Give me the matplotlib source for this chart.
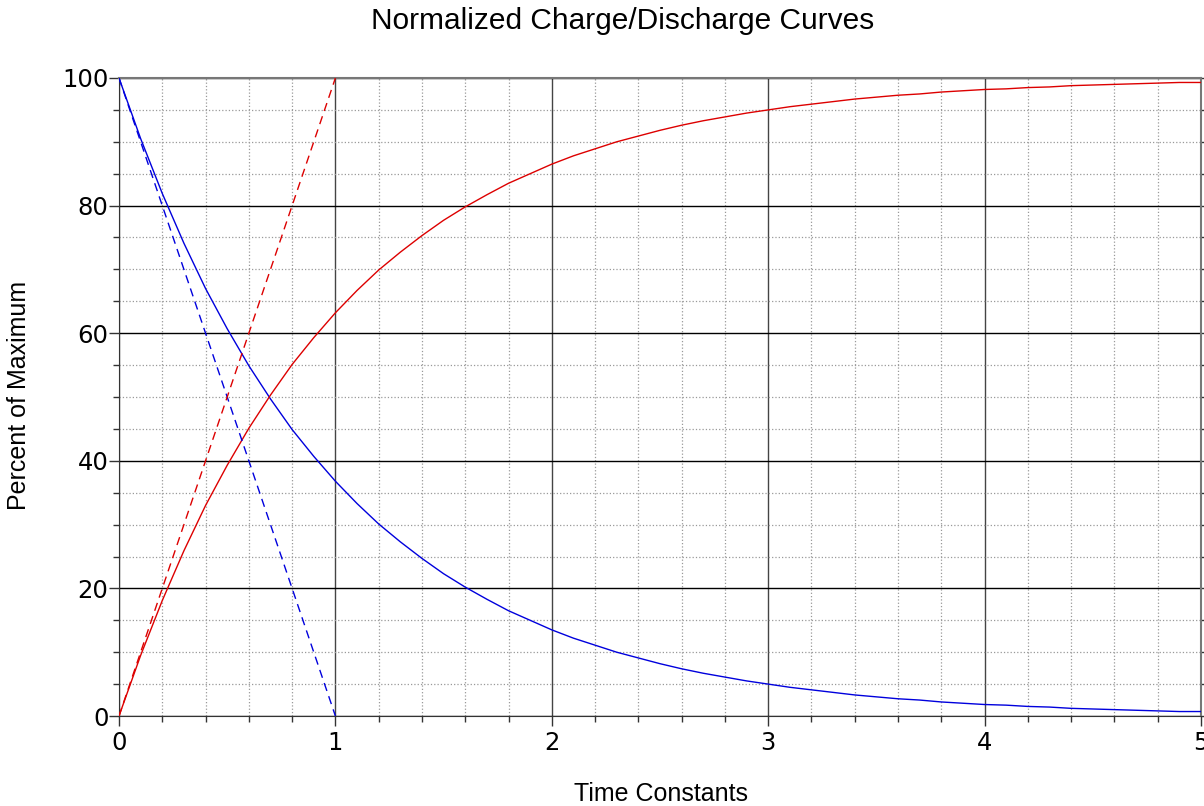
import matplotlib
matplotlib.use('Agg')
import matplotlib.pyplot as plt
from matplotlib.ticker import MultipleLocator

# Time in time constants, sampled every 0.1.
TIME = [i / 10 for i in range(51)]

# Discharge curve, percent of maximum.
DISCHARGE = [100.0, 90.5, 81.9, 74.1, 67.0, 60.7, 54.9, 49.7, 44.9, 40.7,
             36.8, 33.3, 30.1, 27.3, 24.7, 22.3, 20.2, 18.3, 16.5, 15.0,
             13.5, 12.2, 11.1, 10.0, 9.1, 8.2, 7.4, 6.7, 6.1, 5.5,
             5.0, 4.5, 4.1, 3.7, 3.3, 3.0, 2.7, 2.5, 2.2, 2.0,
             1.8, 1.7, 1.5, 1.4, 1.2, 1.1, 1.0, 0.9, 0.8, 0.7, 0.7]

# Charge curve, percent of maximum.
CHARGE = [0.0, 9.5, 18.1, 25.9, 33.0, 39.3, 45.1, 50.3, 55.1, 59.3,
          63.2, 66.7, 69.9, 72.7, 75.3, 77.7, 79.8, 81.7, 83.5, 85.0,
          86.5, 87.8, 88.9, 90.0, 90.9, 91.8, 92.6, 93.3, 93.9, 94.5,
          95.0, 95.5, 95.9, 96.3, 96.7, 97.0, 97.3, 97.5, 97.8, 98.0,
          98.2, 98.3, 98.5, 98.6, 98.8, 98.9, 99.0, 99.1, 99.2, 99.3, 99.3]

# Initial-slope tangent lines.
TANGENT_TIME = [0, 1]
DISCHARGE_TANGENT = [100, 0]
CHARGE_TANGENT = [0, 100]

TITLE = 'Normalized Charge/Discharge Curves'
X_LABEL = 'Time Constants'
Y_LABEL = 'Percent of Maximum'


def main():
    fig = plt.figure(figsize=(12.04, 8.06), dpi=100)
    ax = fig.add_axes([119 / 1204, 1 - 716 / 806, (1201 - 119) / 1204, (716 - 78) / 806])

    ax.plot(TIME, DISCHARGE, color='#0000dd', linewidth=1.0, zorder=3)
    ax.plot(TIME, CHARGE, color='#dd0000', linewidth=1.0, zorder=3)
    ax.plot(TANGENT_TIME, DISCHARGE_TANGENT, color='#0000dd', linewidth=1.0,
            linestyle=(0, (6, 4)), zorder=3)
    ax.plot(TANGENT_TIME, CHARGE_TANGENT, color='#dd0000', linewidth=1.0,
            linestyle=(0, (6, 4)), zorder=3)

    ax.set_xlim(0, 5)
    ax.set_ylim(0, 100)

    # Ticks and grids.
    ax.xaxis.set_major_locator(MultipleLocator(1))
    ax.xaxis.set_minor_locator(MultipleLocator(0.2))
    ax.yaxis.set_major_locator(MultipleLocator(20))
    ax.yaxis.set_minor_locator(MultipleLocator(5))

    ax.grid(which='minor', color='#999999', linestyle=':', linewidth=0.9)
    ax.xaxis.grid(which='major', color='#444444', linestyle='-', linewidth=1.0)
    ax.yaxis.grid(which='major', color='#000000', linestyle='-', linewidth=1.0)
    ax.set_axisbelow(True)

    ax.tick_params(which='major', direction='out', length=7, width=1.0,
                   color='#333333', labelsize=17.5)
    ax.tick_params(axis='y', which='major', pad=0.5)
    ax.tick_params(axis='x', which='major', pad=4)
    ax.tick_params(which='minor', direction='out', length=4.5, width=1.0,
                   color='#333333')
    ax.tick_params(right=True, which='both')

    for side in ['left', 'bottom']:
        ax.spines[side].set_color('#333333')
    for side in ['top', 'right']:
        ax.spines[side].set_color('#777777')
        ax.spines[side].set_linewidth(1.5)

    fig.text(623 / 1204, 1 - 21 / 806, TITLE, family='Liberation Sans', fontsize=21.5,
             ha='center', va='center')
    fig.text(661 / 1204, 1 - 794 / 806, X_LABEL, family='Liberation Sans', fontsize=18,
             ha='center', va='center')
    fig.text(19 / 1204, 1 - 395 / 806, Y_LABEL, family='Liberation Sans', fontsize=18,
             rotation=90, ha='center', va='center')

    fig.savefig('out.png', dpi=100)


if __name__ == '__main__':
    main()
